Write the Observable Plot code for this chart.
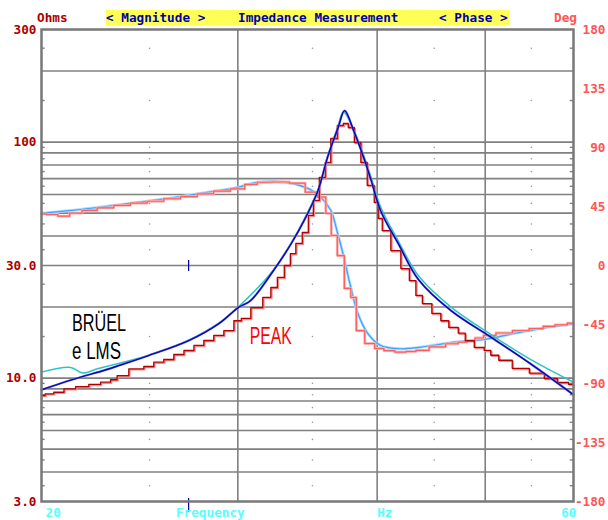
<!DOCTYPE html>
<html><head><meta charset="utf-8">
<script src="https://cdn.jsdelivr.net/npm/d3@7"></script>
<script src="https://cdn.jsdelivr.net/npm/@observablehq/plot@0.6"></script>
<style>
body{margin:0;background:#fff;}
#chart svg{display:block;}
</style></head><body><div id="chart"></div>
<script>
// ---------- data ----------
// smooth fitted magnitude (dark blue)
const fitFreq = [20, 21.3, 22.83, 23.46, 24.96, 27.12, 28.84, 30.06, 30.8, 32.3, 33.5, 34.4, 35.4, 36.1, 36.9, 37.4, 38.1, 38.9, 39.5, 40.3, 41.8, 43.6, 46.6, 50.6, 54.9, 60];
const fitOhm  = [8.92, 9.84, 10.84, 11.3, 12.47, 14.43, 17.0, 19.98, 21.3, 28.6, 37.2, 46.5, 62.3, 86, 115, 136, 112, 86, 69, 51, 37, 26, 19.3, 14.9, 11.5, 8.5];
// measured magnitude (cyan)
const measFreq = [20, 21.25, 21.77, 22.45, 23.4, 24.96, 27.12, 28.84, 30.06, 32.3, 33.5, 34.4, 35.4, 36.1, 36.9, 37.3, 38.1, 38.9, 39.5, 40.3, 41.8, 43.6, 46.6, 50.6, 54.9, 60];
const measOhm  = [10.6, 11.1, 10.5, 10.95, 11.5, 12.5, 14.5, 17.1, 20.1, 28.8, 37.4, 47, 63, 87, 117, 134, 113, 88, 71, 53, 38, 27, 20, 15.3, 12.0, 9.6];
// PEAK magnitude (dark red staircase)
const peakFreq = [20, 20.30, 20.73, 21.17, 21.75, 22.36, 22.83, 23.30, 23.46, 24.45, 24.96, 25.48, 26.01, 26.56, 27.12, 27.68, 28.25, 28.84, 29.45, 30.06, 30.37, 31.26, 31.91, 32.32, 32.78, 33.26, 33.61, 34.02, 34.52, 34.88, 35.24, 35.75, 36.12, 36.57, 37.11, 37.49, 37.88, 38.44, 38.91, 39.47, 40.05, 40.13, 40.72, 41.57, 42.44, 43.06, 43.6, 44.23, 45.34, 45.9, 46.86, 47.73, 48.23, 49.54, 50.26, 50.89, 51.95, 53.81, 55.74, 57.25, 58.81, 60];
const peakOhm  = [8.44, 8.58, 8.71, 9.01, 9.21, 9.40, 9.61, 9.84, 10.25, 10.95, 11.2, 11.68, 11.99, 12.59, 13.09, 13.75, 14.43, 15.16, 15.9, 17.5, 17.9, 19.9, 22.0, 24.2, 26.7, 30.0, 33.7, 37.2, 41.4, 48.9, 56.6, 70.8, 82, 103.6, 117.6, 119.9, 115.3, 99.6, 82, 65.5, 55.5, 47.5, 42.2, 34.7, 29.1, 25.9, 22.4, 20.7, 18.8, 17.5, 16.4, 15.5, 14.4, 13.5, 13.1, 12.5, 11.9, 11.0, 10.5, 9.96, 9.58, 9.4];
// PEAK phase (light red staircase)
const phasePeakFreq = [20, 20.43, 20.94, 21.45, 22.05, 22.83, 23.61, 24.45, 25.31, 26.18, 27.12, 28.06, 29.02, 30.06, 30.8, 31.65, 32.78, 33.96, 35.0, 35.75, 36.2, 36.57, 37.11, 37.65, 38.12, 38.51, 39.47, 40.13, 41.0, 42.0, 42.9, 43.78, 45.3, 46.86, 47.7, 48.53, 49.4, 50.26, 52.0, 53.81, 55.7, 57.0, 58.5, 60];
const phasePeakDeg  = [39.4, 38.9, 37.6, 39.9, 42.0, 44.0, 45.8, 47.5, 49.0, 50.9, 52.6, 54.7, 56.7, 58.5, 61.8, 63.5, 63.7, 62.8, 55.9, 52.1, 39.7, 22.9, 7.6, -17.5, -24.4, -49.6, -59.5, -63.3, -65.0, -66.1, -65.6, -64.8, -62.0, -59.7, -58.5, -57.2, -55.3, -53.4, -51.5, -49.6, -48.2, -46.5, -45.3, -44.0];
// fitted phase (light blue)
const phaseFitFreq = [20, 21.29, 22.83, 24.45, 26.18, 28.06, 30.06, 30.8, 32.32, 33.68, 34.88, 35.6, 36.35, 36.87, 37.34, 37.88, 38.44, 39.24, 40.3, 42.0, 43.78, 46.86, 50.26, 53.81, 57.6, 60];
const phaseFitDeg  = [39.9, 42.0, 45.0, 48.3, 51.6, 55.6, 59.8, 62.5, 64.1, 62.3, 57.7, 52.1, 42.0, 24.4, 6.3, -16.6, -36.6, -51.9, -61.0, -63.5, -62.3, -58.5, -55.9, -50.9, -46.5, -44.5];

// axes / grid
const gridOhm = [4, 5, 6, 7, 8, 9, 10, 20, 30, 40, 50, 60, 70, 80, 90, 100, 200];
const gridFreq = [30, 40, 50];
const minorOhm = [250, 150, 95, 85, 75, 65, 55, 45, 35, 25, 15, 9.5, 8.5, 7.5, 6.5, 5.5, 4.5, 3.5];
const minorFreq = [25, 35, 45, 55];
const leftTicks = [3, 10, 30, 100, 300];
const leftLabels = ["3.0", "10.0", "30.0", "100", "300"];
const phaseTicks = [-180, -135, -90, -45, 0, 45, 90, 135, 180];
const bottomFirstText = ["20"];
const bottomFirstFreq = [20];
const bottomStartText = ["Frequency", "Hz"];
const bottomStartFreq = [26.4, 40];
const bottomEndText = ["60"];
const bottomEndFreq = [60];
const cursorFreq = 27.1;
const annotText = ["BRÜEL", "e LMS"];
const annotFreq = [21.3, 21.3];
const annotOhm = [15.9, 12.1];
const peakLabel = ["PEAK"];
const peakLabelFreq = [30.75];
const peakLabelOhm = [14.0];

// phase axis mapped onto the magnitude (log) scale: -180..180 deg <-> 3..300 ohm
const phaseToOhm = d => 3 * Math.pow(10, (d + 180) / 180);

const zip = (xs, ys) => xs.map((x, i) => ({f: x, v: ys[i]}));
const fit = zip(fitFreq, fitOhm);
const meas = zip(measFreq, measOhm);
const peak = zip(peakFreq, peakOhm);
const phPeak = zip(phasePeakFreq, phasePeakDeg);
const phFit = zip(phaseFitFreq, phaseFitDeg);
const minorGrid = minorFreq.flatMap(f => minorOhm.map(v => ({f, v})));

const mono = "'DejaVu Sans Mono', 'Liberation Mono', monospace";
const sans = "'Liberation Sans', Arial, sans-serif";
const axTxt = {fontFamily: mono, fontWeight: "bold", fontSize: 12.7};

const chart = Plot.plot({
  width: 608, height: 520,
  marginTop: 29, marginRight: 35, marginBottom: 19, marginLeft: 41,
  x: {type: "log", domain: [20, 60], axis: null},
  y: {type: "log", domain: [3, 300], axis: null},
  style: {background: "white"},
  marks: [
    Plot.ruleY(gridOhm, {stroke: "#808080", strokeWidth: 1.6}),
    Plot.ruleX(gridFreq, {stroke: "#808080", strokeWidth: 1.6}),
    Plot.dot(minorGrid, {x: "f", y: "v", r: 0.8, fill: "#9a9a9a", stroke: null}),
    Plot.ruleY(minorOhm, {x1: () => 20, x2: () => 20.15, stroke: "#808080", strokeWidth: 1.4}),
    Plot.ruleY(minorOhm, {x1: () => 59.6, x2: () => 60, stroke: "#808080", strokeWidth: 1.4}),
    // fitted phase (light blue)
    Plot.line(phFit, {x: "f", y: d => phaseToOhm(d.v), curve: "catmull-rom", stroke: "#b0dcff", strokeWidth: 2.8}),
    Plot.line(phFit, {x: "f", y: d => phaseToOhm(d.v), curve: "catmull-rom", stroke: "#3aa4ff", strokeWidth: 1.2}),
    // PEAK phase (light red staircase)
    Plot.line(phPeak, {x: "f", y: d => phaseToOhm(d.v), curve: "step", stroke: "#ffb4b4", strokeWidth: 2.8}),
    Plot.line(phPeak, {x: "f", y: d => phaseToOhm(d.v), curve: "step", stroke: "#ff5c5c", strokeWidth: 1.2}),
    // measured magnitude (cyan)
    Plot.line(meas, {x: "f", y: "v", curve: "catmull-rom", stroke: "#2ec4c4", strokeWidth: 1.5}),
    // PEAK magnitude (dark red staircase)
    Plot.line(peak, {x: "f", y: "v", curve: "step", stroke: "#f08a8a", strokeWidth: 1.6, dx: 1, dy: 1}),
    Plot.line(peak, {x: "f", y: "v", curve: "step", stroke: "#b40000", strokeWidth: 1.3}),
    // fitted magnitude (dark blue)
    Plot.line(fit, {x: "f", y: "v", curve: "catmull-rom", stroke: "#6a6ae0", strokeWidth: 2.2}),
    Plot.line(fit, {x: "f", y: "v", curve: "catmull-rom", stroke: "#0000a8", strokeWidth: 1.2}),
    // cursor marks
    Plot.ruleX([cursorFreq], {y1: () => 2.7, y2: () => 3.09, stroke: "#0000a8", strokeWidth: 1.2}),
    Plot.ruleX([cursorFreq], {y1: () => 28.3, y2: () => 31.5, stroke: "#0000a8", strokeWidth: 1.2}),
    Plot.frame({stroke: "#787878", strokeWidth: 2.5}),
    // left magnitude labels
    Plot.text(leftTicks, {y: d => d, text: (d, i) => leftLabels[i], frameAnchor: "left", textAnchor: "end", dx: -5, fill: "#aa0000", ...axTxt}),
    // right phase labels
    Plot.text(phaseTicks, {y: d => phaseToOhm(d), text: d => String(d), frameAnchor: "right", textAnchor: "end", dx: 32, fill: "#ff5555", ...axTxt}),
    // bottom labels
    Plot.text(bottomFirstText, {x: (d, i) => bottomFirstFreq[i], text: d => d, frameAnchor: "bottom", textAnchor: "start", dx: 4, dy: 15, fill: "#55ffff", ...axTxt}),
    Plot.text(bottomStartText, {x: (d, i) => bottomStartFreq[i], text: d => d, frameAnchor: "bottom", textAnchor: "start", dx: 0, dy: 15, fill: "#55ffff", ...axTxt}),
    Plot.text(bottomEndText, {x: (d, i) => bottomEndFreq[i], text: d => d, frameAnchor: "bottom", textAnchor: "end", dx: 3, dy: 15, fill: "#55ffff", ...axTxt}),
    // annotations
    Plot.text(annotText, {x: (d, i) => annotFreq[i], y: (d, i) => annotOhm[i], text: d => d, textAnchor: "start", lineAnchor: "bottom", fill: "#000", fontFamily: sans, fontSize: 23}),
    Plot.text(peakLabel, {x: (d, i) => peakLabelFreq[i], y: (d, i) => peakLabelOhm[i], text: d => d, textAnchor: "start", lineAnchor: "bottom", fill: "#ff0000", fontFamily: sans, fontSize: 23})
  ]
});

// condense the annotation lettering like the original narrow font
const svg = d3.select(chart);
const lens = {"BRÜEL": 54, "e LMS": 49, "PEAK": 42};
svg.selectAll("text").each(function() {
  const t = this.textContent;
  if (lens[t]) d3.select(this).attr("textLength", lens[t]).attr("lengthAdjust", "spacingAndGlyphs");
});

// header strip
const head = svg.append("g").attr("font-family", mono).attr("font-weight", "bold")
  .attr("font-size", 12.7).attr("text-anchor", "start");
head.append("rect").attr("x", 106).attr("y", 10).attr("width", 403).attr("height", 15).attr("fill", "#ffff55");
const headTexts = [
  {x: 37, t: "Ohms", c: "#aa0000"},
  {x: 106, t: "< Magnitude >", c: "#0000aa"},
  {x: 238, t: "Impedance Measurement", c: "#0000aa"},
  {x: 439, t: "< Phase >", c: "#0000aa"},
  {x: 554, t: "Deg", c: "#ff5555"}
];
head.selectAll("text.h").data(headTexts).join("text")
  .attr("x", d => d.x).attr("y", 21.5).attr("fill", d => d.c)
  .attr("text-anchor", "start").style("white-space", "pre").text(d => d.t);

document.getElementById("chart").appendChild(chart);
</script></body></html>
